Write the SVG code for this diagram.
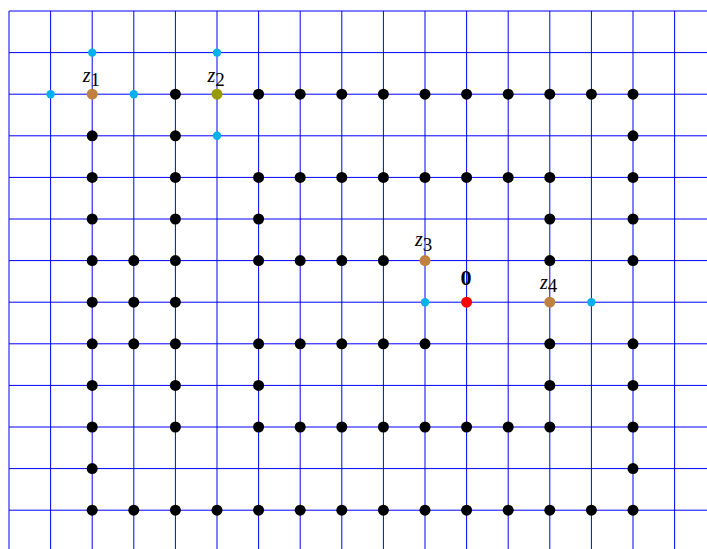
<svg xmlns="http://www.w3.org/2000/svg" xmlns:xlink="http://www.w3.org/1999/xlink" width="707" height="549" viewBox="0 0 707 549">
<style>
.g line{stroke:#0000ff;stroke-width:1}
.lab{font-family:"Liberation Serif","Times New Roman",serif;font-size:20px;fill:#000}
.z{font-style:italic}
.sub{font-size:19px}
.zero{font-family:"Liberation Serif","Times New Roman",serif;font-size:22px;font-weight:bold;fill:#000;text-anchor:middle}
</style>
<defs>
<circle id="bk" r="5.5" fill="#000"/>
<circle id="cy" r="4.2" fill="#00b0f0"/>
<circle id="br" r="5.5" fill="#c0803f"/>
<circle id="ol" r="5.5" fill="#999900"/>
<circle id="rd" r="5.5" fill="#ff0000"/>
</defs>
<rect width="707" height="549" fill="#fff"/>
<g id="connectors" class="g">
<line x1="9" y1="11" x2="9" y2="549"/>
<line x1="50.6" y1="11" x2="50.6" y2="549"/>
<line x1="92.2" y1="11" x2="92.2" y2="549"/>
<line x1="133.8" y1="11" x2="133.8" y2="549"/>
<line x1="175.4" y1="11" x2="175.4" y2="549"/>
<line x1="217" y1="11" x2="217" y2="549"/>
<line x1="258.6" y1="11" x2="258.6" y2="549"/>
<line x1="300.2" y1="11" x2="300.2" y2="549"/>
<line x1="341.8" y1="11" x2="341.8" y2="549"/>
<line x1="383.4" y1="11" x2="383.4" y2="549"/>
<line x1="425" y1="11" x2="425" y2="549"/>
<line x1="466.6" y1="11" x2="466.6" y2="549"/>
<line x1="508.2" y1="11" x2="508.2" y2="549"/>
<line x1="549.8" y1="11" x2="549.8" y2="549"/>
<line x1="591.4" y1="11" x2="591.4" y2="549"/>
<line x1="633" y1="11" x2="633" y2="549"/>
<line x1="674.6" y1="11" x2="674.6" y2="549"/>
<line x1="9" y1="11" x2="707" y2="11"/>
<line x1="9" y1="52.6" x2="707" y2="52.6"/>
<line x1="9" y1="94.2" x2="707" y2="94.2"/>
<line x1="9" y1="135.8" x2="707" y2="135.8"/>
<line x1="9" y1="177.4" x2="707" y2="177.4"/>
<line x1="9" y1="219" x2="707" y2="219"/>
<line x1="9" y1="260.6" x2="707" y2="260.6"/>
<line x1="9" y1="302.2" x2="707" y2="302.2"/>
<line x1="9" y1="343.8" x2="707" y2="343.8"/>
<line x1="9" y1="385.4" x2="707" y2="385.4"/>
<line x1="9" y1="427" x2="707" y2="427"/>
<line x1="9" y1="468.6" x2="707" y2="468.6"/>
<line x1="9" y1="510.2" x2="707" y2="510.2"/>
</g>
<g id="nodes">
<!-- row 1 -->
<g id="n2-1"><use href="#cy" x="92.2" y="52.6"/></g>
<g id="n5-1"><use href="#cy" x="217" y="52.6"/></g>
<!-- row 2 -->
<g id="n1-2"><use href="#cy" x="50.6" y="94.2"/></g>
<g id="z1"><use href="#br" x="92.2" y="94.2"/><text class="lab" x="82.7" y="81.7"><tspan class="z">z</tspan><tspan class="sub" dy="4">1</tspan></text></g>
<g id="n3-2"><use href="#cy" x="133.8" y="94.2"/></g>
<g id="n4-2"><use href="#bk" x="175.4" y="94.2"/></g>
<g id="z2"><use href="#ol" x="217" y="94.2"/><text class="lab" x="207.5" y="81.7"><tspan class="z">z</tspan><tspan class="sub" dy="4">2</tspan></text></g>
<g id="n6-2"><use href="#bk" x="258.6" y="94.2"/></g>
<g id="n7-2"><use href="#bk" x="300.2" y="94.2"/></g>
<g id="n8-2"><use href="#bk" x="341.8" y="94.2"/></g>
<g id="n9-2"><use href="#bk" x="383.4" y="94.2"/></g>
<g id="n10-2"><use href="#bk" x="425" y="94.2"/></g>
<g id="n11-2"><use href="#bk" x="466.6" y="94.2"/></g>
<g id="n12-2"><use href="#bk" x="508.2" y="94.2"/></g>
<g id="n13-2"><use href="#bk" x="549.8" y="94.2"/></g>
<g id="n14-2"><use href="#bk" x="591.4" y="94.2"/></g>
<g id="n15-2"><use href="#bk" x="633" y="94.2"/></g>
<!-- row 3 -->
<g id="n2-3"><use href="#bk" x="92.2" y="135.8"/></g>
<g id="n4-3"><use href="#bk" x="175.4" y="135.8"/></g>
<g id="n5-3"><use href="#cy" x="217" y="135.8"/></g>
<g id="n15-3"><use href="#bk" x="633" y="135.8"/></g>
<!-- row 4 -->
<g id="n2-4"><use href="#bk" x="92.2" y="177.4"/></g>
<g id="n4-4"><use href="#bk" x="175.4" y="177.4"/></g>
<g id="n6-4"><use href="#bk" x="258.6" y="177.4"/></g>
<g id="n7-4"><use href="#bk" x="300.2" y="177.4"/></g>
<g id="n8-4"><use href="#bk" x="341.8" y="177.4"/></g>
<g id="n9-4"><use href="#bk" x="383.4" y="177.4"/></g>
<g id="n10-4"><use href="#bk" x="425" y="177.4"/></g>
<g id="n11-4"><use href="#bk" x="466.6" y="177.4"/></g>
<g id="n12-4"><use href="#bk" x="508.2" y="177.4"/></g>
<g id="n13-4"><use href="#bk" x="549.8" y="177.4"/></g>
<g id="n15-4"><use href="#bk" x="633" y="177.4"/></g>
<!-- row 5 -->
<g id="n2-5"><use href="#bk" x="92.2" y="219"/></g>
<g id="n4-5"><use href="#bk" x="175.4" y="219"/></g>
<g id="n6-5"><use href="#bk" x="258.6" y="219"/></g>
<g id="n13-5"><use href="#bk" x="549.8" y="219"/></g>
<g id="n15-5"><use href="#bk" x="633" y="219"/></g>
<!-- row 6 -->
<g id="n2-6"><use href="#bk" x="92.2" y="260.6"/></g>
<g id="n3-6"><use href="#bk" x="133.8" y="260.6"/></g>
<g id="n4-6"><use href="#bk" x="175.4" y="260.6"/></g>
<g id="n6-6"><use href="#bk" x="258.6" y="260.6"/></g>
<g id="n7-6"><use href="#bk" x="300.2" y="260.6"/></g>
<g id="n8-6"><use href="#bk" x="341.8" y="260.6"/></g>
<g id="n9-6"><use href="#bk" x="383.4" y="260.6"/></g>
<g id="z3"><use href="#br" x="425" y="260.6"/><text class="lab" x="415" y="245.7"><tspan class="z">z</tspan><tspan class="sub" dy="5">3</tspan></text></g>
<g id="n13-6"><use href="#bk" x="549.8" y="260.6"/></g>
<g id="n15-6"><use href="#bk" x="633" y="260.6"/></g>
<!-- row 7 -->
<g id="n2-7"><use href="#bk" x="92.2" y="302.2"/></g>
<g id="n3-7"><use href="#bk" x="133.8" y="302.2"/></g>
<g id="n4-7"><use href="#bk" x="175.4" y="302.2"/></g>
<g id="n10-7"><use href="#cy" x="425" y="302.2"/></g>
<g id="origin"><use href="#rd" x="466.6" y="302.2"/><text class="zero" x="466" y="285">0</text></g>
<g id="z4"><use href="#br" x="549.8" y="302.2"/><text class="lab" x="540" y="289"><tspan class="z">z</tspan><tspan class="sub" dy="3">4</tspan></text></g>
<g id="n14-7"><use href="#cy" x="591.4" y="302.2"/></g>
<!-- row 8 -->
<g id="n2-8"><use href="#bk" x="92.2" y="343.8"/></g>
<g id="n3-8"><use href="#bk" x="133.8" y="343.8"/></g>
<g id="n4-8"><use href="#bk" x="175.4" y="343.8"/></g>
<g id="n6-8"><use href="#bk" x="258.6" y="343.8"/></g>
<g id="n7-8"><use href="#bk" x="300.2" y="343.8"/></g>
<g id="n8-8"><use href="#bk" x="341.8" y="343.8"/></g>
<g id="n9-8"><use href="#bk" x="383.4" y="343.8"/></g>
<g id="n10-8"><use href="#bk" x="425" y="343.8"/></g>
<g id="n13-8"><use href="#bk" x="549.8" y="343.8"/></g>
<g id="n15-8"><use href="#bk" x="633" y="343.8"/></g>
<!-- row 9 -->
<g id="n2-9"><use href="#bk" x="92.2" y="385.4"/></g>
<g id="n4-9"><use href="#bk" x="175.4" y="385.4"/></g>
<g id="n6-9"><use href="#bk" x="258.6" y="385.4"/></g>
<g id="n13-9"><use href="#bk" x="549.8" y="385.4"/></g>
<g id="n15-9"><use href="#bk" x="633" y="385.4"/></g>
<!-- row 10 -->
<g id="n2-10"><use href="#bk" x="92.2" y="427"/></g>
<g id="n4-10"><use href="#bk" x="175.4" y="427"/></g>
<g id="n6-10"><use href="#bk" x="258.6" y="427"/></g>
<g id="n7-10"><use href="#bk" x="300.2" y="427"/></g>
<g id="n8-10"><use href="#bk" x="341.8" y="427"/></g>
<g id="n9-10"><use href="#bk" x="383.4" y="427"/></g>
<g id="n10-10"><use href="#bk" x="425" y="427"/></g>
<g id="n11-10"><use href="#bk" x="466.6" y="427"/></g>
<g id="n12-10"><use href="#bk" x="508.2" y="427"/></g>
<g id="n13-10"><use href="#bk" x="549.8" y="427"/></g>
<g id="n15-10"><use href="#bk" x="633" y="427"/></g>
<!-- row 11 -->
<g id="n2-11"><use href="#bk" x="92.2" y="468.6"/></g>
<g id="n15-11"><use href="#bk" x="633" y="468.6"/></g>
<!-- row 12 -->
<g id="n2-12"><use href="#bk" x="92.2" y="510.2"/></g>
<g id="n3-12"><use href="#bk" x="133.8" y="510.2"/></g>
<g id="n4-12"><use href="#bk" x="175.4" y="510.2"/></g>
<g id="n5-12"><use href="#bk" x="217" y="510.2"/></g>
<g id="n6-12"><use href="#bk" x="258.6" y="510.2"/></g>
<g id="n7-12"><use href="#bk" x="300.2" y="510.2"/></g>
<g id="n8-12"><use href="#bk" x="341.8" y="510.2"/></g>
<g id="n9-12"><use href="#bk" x="383.4" y="510.2"/></g>
<g id="n10-12"><use href="#bk" x="425" y="510.2"/></g>
<g id="n11-12"><use href="#bk" x="466.6" y="510.2"/></g>
<g id="n12-12"><use href="#bk" x="508.2" y="510.2"/></g>
<g id="n13-12"><use href="#bk" x="549.8" y="510.2"/></g>
<g id="n14-12"><use href="#bk" x="591.4" y="510.2"/></g>
<g id="n15-12"><use href="#bk" x="633" y="510.2"/></g>
</g>
</svg>
